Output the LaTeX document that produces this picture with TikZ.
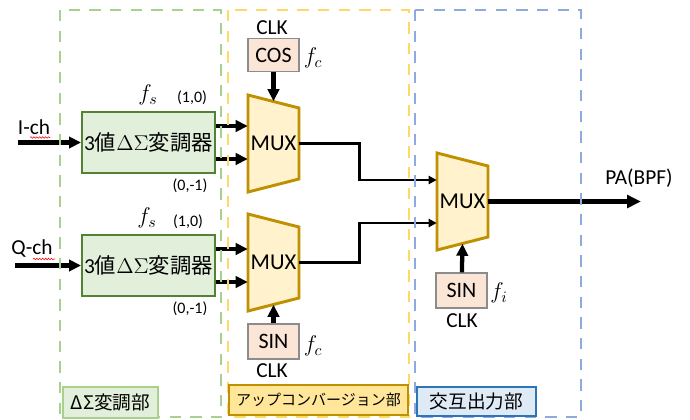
\documentclass[tikz,border=0pt]{standalone}
\usepackage{fix-cm}
\usepackage{fontspec}
\setmainfont{Carlito}
\newfontfamily\jpfont{Noto Sans CJK JP}
\usetikzlibrary{arrows.meta,calc,decorations.pathmorphing}

\definecolor{grpgreen}{HTML}{A9D18E}
\definecolor{grpyellow}{HTML}{FFD966}
\definecolor{grpblue}{HTML}{8FAADC}
\definecolor{modfill}{HTML}{E2EFDA}
\definecolor{modedge}{HTML}{548235}
\definecolor{muxfill}{HTML}{FFF2CC}
\definecolor{muxedge}{HTML}{BF9000}
\definecolor{clkfill}{HTML}{FBE5D6}
\definecolor{clkedge}{HTML}{8C8C8C}
\definecolor{tagyellow}{HTML}{FFE699}
\definecolor{tagblue}{HTML}{DEEBF7}
\definecolor{tagblueedge}{HTML}{2E75B6}

\tikzset{
  group/.style={dash pattern=on 8.6pt off 6.9pt, line width=2pt},
  modbox/.style={draw=modedge, fill=modfill, line width=1.5pt, minimum width=99.75pt,
    minimum height=45.75pt, inner sep=0pt, font=\fontsize{16}{19}\selectfont},
  mux/.style={minimum width=38.25pt, minimum height=72.75pt, inner sep=0pt,
    font=\fontsize{17}{20}\selectfont},
  muxline/.style={draw=muxedge, fill=muxfill, line width=2.2pt, line join=miter},
  clkbox/.style={draw=clkedge, fill=clkfill, line width=1pt, minimum width=38.25pt,
    minimum height=25pt, inner sep=0pt, font=\fontsize{16.5}{19}\selectfont},
  lbl/.style={inner sep=0pt, font=\fontsize{16}{19}\selectfont},
  clk/.style={inner sep=0pt, font=\fontsize{16}{19}\selectfont},
  pt/.style={inner sep=0pt, font=\fontsize{12}{14}\selectfont},
  freq/.style={inner sep=0pt, font=\fontsize{17}{20}\selectfont},
  tag/.style={line width=1.8pt, inner sep=0pt, font=\fontsize{14}{17}\jpfont},
  arr/.style={->, >={Triangle[length=9pt,width=8.5pt]}, line width=3.2pt},
  thinarr/.style={->, >={Triangle[length=6pt,width=6pt]}, line width=2pt},
  bigarr/.style={->, >={Triangle[length=10.5pt,width=9.5pt]}, line width=4pt},
  squig/.style={red, line width=0.4pt, decorate,
    decoration={snake, amplitude=0.6pt, segment length=2.2pt}}
}

% trapezoid body of a multiplexer, centred on #1
\newcommand{\muxbody}[1]{%
  \filldraw[muxline] ($(#1)+(-25.5,-48.5)$) -- ++(51,13) -- ++(0,71) -- ++(-51,13) -- cycle;}

\begin{document}
\begin{tikzpicture}[x=0.75pt, y=-0.75pt]
	\useasboundingbox (0,0) rectangle (690,419);

	% modulators
	\node[modbox] (d1) at (148.5,142.5) {3{\jpfont 値}$\Delta\Sigma${\jpfont 変調器}};
	\node[modbox] (d2) at (148.5,265.5) {3{\jpfont 値}$\Delta\Sigma${\jpfont 変調器}};

	\node[lbl] (ich) at (34,127) {I-ch};
	\node[lbl] (qch) at (32,248) {Q-ch};
	\draw[squig] (30,137.5) -- (50,137.5);
	\draw[squig] (33,259) -- (55,259);
	\coordinate (iin) at (18,142.5);
	\coordinate (qin) at (15,265.5);

	\node[freq] (fs1) at (148,95) {$f_s$};
	\node[pt] (p1) at (192,98) {(1,0)};
	\node[pt] (n1) at (190,186) {(0,-1)};
	\node[freq] (fs2) at (147,218) {$f_s$};
	\node[pt] (p2) at (188,222) {(1,0)};
	\node[pt] (n2) at (190,309) {(0,-1)};

	% up-conversion
	\muxbody{273.5,143.5}
	\node[mux] (m1) at (273.5,143.5) {MUX};
	\muxbody{273.5,262.5}
	\node[mux] (m2) at (273.5,262.5) {MUX};

	\node[clkbox] (cos) at (273.5,55) {COS};
	\node[clk] (clk1) at (272,28) {CLK};
	\node[freq] (fc1) at (313,58) {$f_c$};
	\node[clkbox, minimum height=26.25pt] (sin1) at (273.5,341.5) {SIN};
	\node[clk] (clk2) at (272,371) {CLK};
	\node[freq] (fc2) at (313,346) {$f_c$};

	% alternate output
	\muxbody{462.5,201.5}
	\node[mux] (m3) at (462.5,201.5) {MUX};
	\node[clkbox, minimum height=26.25pt] (sin3) at (461.5,290.5) {SIN};
	\node[clk] (clk3) at (462,321) {CLK};
	\node[freq] (fi) at (499,293) {$f_i$};

	\coordinate (pa) at (641,201.5);
	\node[lbl] (palbl) at (639,178) {PA(BPF)};

	% signal flow
	\draw[arr] (iin) -- (d1.west);
	\draw[arr] (qin) -- (d2.west);
	\foreach \n in {1,2} {
		\draw[arr] ($(d\n.east)+(0,-16.5)$) coordinate (o) -- (o -| m\n.west);
		\draw[arr] ($(d\n.east)+(0,16.5)$) coordinate (o) -- (o -| m\n.west);
	}
	\draw[arr] (cos) -- ($(m1.north)+(0,6.5)$);
	\draw[arr] (sin1) -- ($(m2.south)+(0,-6.5)$);
	\draw[arr] (sin3) -- ($(m3.south)+(0,-6.5)$);
	\draw[thinarr] (m1.east) -- ++(60,0) |- ($(m3.west)+(0,-21.5)$);
	\draw[thinarr] (m2.east) -- ++(60,0) |- ($(m3.west)+(0,21.5)$);
	\draw[bigarr] (m3.east) -- (pa);

	% block frames
	\draw[group, draw=grpgreen] (60,10) rectangle (221,417);
	\draw[group, draw=grpyellow] (228,10) rectangle (409,417);
	\draw[group, draw=grpblue] (415,10) rectangle (581,417);

	\node[tag, draw=grpgreen, fill=modfill, minimum width=71.25pt, minimum height=23.25pt]
		(tag1) at (110.5,402.5) {ΔΣ変調部};
	\node[tag, draw=muxedge, fill=tagyellow, minimum width=134.25pt, minimum height=22.5pt,
		font=\fontsize{11.25}{14}\jpfont] (tag2) at (318.5,400) {アップコンバージョン部};
	\node[tag, draw=tagblueedge, fill=tagblue, minimum width=89.25pt, minimum height=21.75pt]
		(tag3) at (476.5,401.5) {交互出力部};
\end{tikzpicture}
\end{document}
